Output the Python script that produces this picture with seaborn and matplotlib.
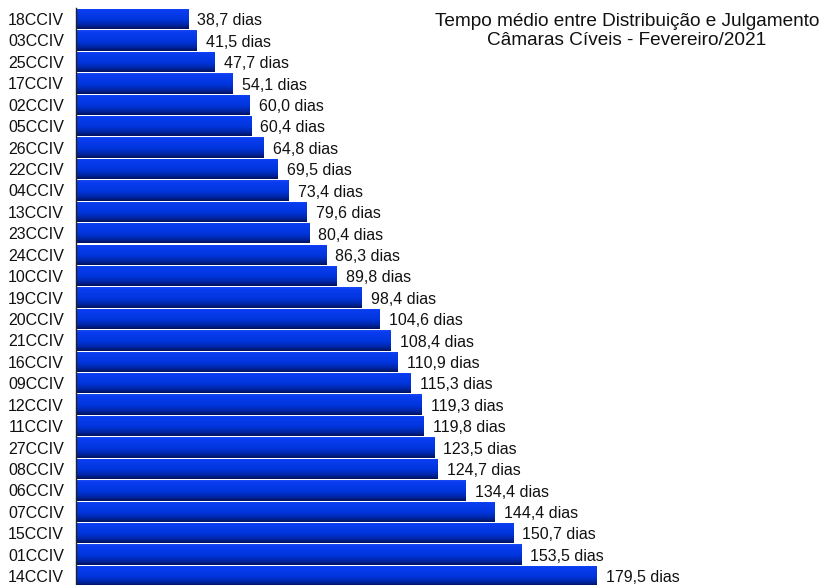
import matplotlib
matplotlib.use("Agg")
import matplotlib.pyplot as plt
import seaborn as sns
import numpy as np
import pandas as pd
from matplotlib.colors import LinearSegmentedColormap

camaras = ["18CCIV", "03CCIV", "25CCIV", "17CCIV", "02CCIV", "05CCIV", "26CCIV",
           "22CCIV", "04CCIV", "13CCIV", "23CCIV", "24CCIV", "10CCIV", "19CCIV",
           "20CCIV", "21CCIV", "16CCIV", "09CCIV", "12CCIV", "11CCIV", "27CCIV",
           "08CCIV", "06CCIV", "07CCIV", "15CCIV", "01CCIV", "14CCIV"]
dias = [38.7, 41.5, 47.7, 54.1, 60.0, 60.4, 64.8, 69.5, 73.4, 79.6, 80.4, 86.3,
        89.8, 98.4, 104.6, 108.4, 110.9, 115.3, 119.3, 119.8, 123.5, 124.7,
        134.4, 144.4, 150.7, 153.5, 179.5]
titulo = "Tempo médio entre Distribuição e Julgamento\nCâmaras Cíveis - Fevereiro/2021"

df = pd.DataFrame({"camara": camaras, "dias": dias})

sns.set_style("white")
plt.rcParams["font.family"] = ["Liberation Sans", "DejaVu Sans"]

fig = plt.figure(figsize=(8.29, 5.85), dpi=100)
ax = fig.add_axes([76.5 / 829, -0.003, 1 - 76.5 / 829, 0.9887])

sns.barplot(data=df, y="camara", x="dias", orient="h", color="#0033dd",
            width=0.95, ax=ax, saturation=1)

cmap = LinearSegmentedColormap.from_list(
    "grad", [(0.0, "#1a48f5"), (0.1, "#0a3cf0"), (0.55, "#0035dc"),
             (0.8, "#0026a8"), (1.0, "#00125e")])
grad = np.linspace(0, 1, 64).reshape(-1, 1)
for p in ax.patches:
    x0, y0 = p.get_x(), p.get_y()
    w, h = p.get_width(), p.get_height()
    p.set_facecolor("none")
    p.set_edgecolor("none")
    im = ax.imshow(grad, cmap=cmap, aspect="auto",
                   extent=[x0, x0 + w, y0 + h, y0], zorder=2,
                   interpolation="bilinear")
    im.set_clip_path(p)

for i, v in enumerate(dias):
    ax.text(v + 3.0, i + 0.08, f"{v:.1f}".replace(".", ",") + " dias",
            va="center", ha="left", fontsize=11.5, color="#111111", zorder=3)

ax.set_xlim(0, 752.5 / 2.9)
ax.set_ylim(len(camaras) - 0.5, -0.5)
ax.set_xlabel("")
ax.set_ylabel("")
ax.set_xticks([])
for s in ["top", "right", "bottom"]:
    ax.spines[s].set_visible(False)
ax.spines["left"].set_color("#222222")
ax.spines["left"].set_linewidth(1.0)
ax.tick_params(axis="y", which="major", length=0, pad=9, labelsize=11.5,
               labelcolor="#111111")
ax.set_yticks(np.arange(-0.5, len(camaras), 1.0), minor=True)
ax.tick_params(axis="y", which="minor", length=5, width=1.0, color="#222222",
               direction="out")

fig.text(627 / 829, 1 - 31 / 585, titulo, ha="center", va="center",
         fontsize=13.7, color="#111111", linespacing=1.2)

fig.savefig("out.png", dpi=100)
